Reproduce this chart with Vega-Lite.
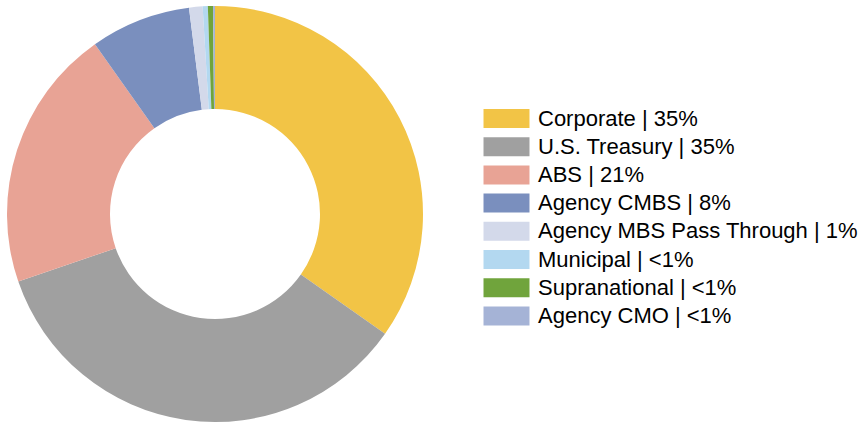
{
  "$schema": "https://vega.github.io/schema/vega-lite/v6.json",
  "width": 430,
  "height": 428,
  "padding": 0,
  "autosize": {"type": "pad"},
  "background": "white",
  "data": {
    "values": [
      {"label": "Corporate | 35%", "value": 34.8, "order": 1},
      {"label": "U.S. Treasury | 35%", "value": 35.0, "order": 2},
      {"label": "ABS | 21%", "value": 20.5, "order": 3},
      {"label": "Agency CMBS | 8%", "value": 7.8, "order": 4},
      {"label": "Agency MBS Pass Through | 1%", "value": 1.05, "order": 5},
      {"label": "Municipal | <1%", "value": 0.4, "order": 6},
      {"label": "Supranational | <1%", "value": 0.4, "order": 7},
      {"label": "Agency CMO | <1%", "value": 0.15, "order": 8}
    ]
  },
  "mark": {"type": "arc", "radius": 208, "radius2": 105},
  "encoding": {
    "theta": {"field": "value", "type": "quantitative", "stack": true},
    "order": {"field": "order", "type": "quantitative"},
    "color": {
      "field": "label",
      "type": "nominal",
      "sort": ["Corporate | 35%", "U.S. Treasury | 35%", "ABS | 21%", "Agency CMBS | 8%", "Agency MBS Pass Through | 1%", "Municipal | <1%", "Supranational | <1%", "Agency CMO | <1%"],
      "scale": {
        "domain": ["Corporate | 35%", "U.S. Treasury | 35%", "ABS | 21%", "Agency CMBS | 8%", "Agency MBS Pass Through | 1%", "Municipal | <1%", "Supranational | <1%", "Agency CMO | <1%"],
        "range": ["#F2C446", "#A0A0A0", "#E8A395", "#7A8FBE", "#D3D9EA", "#B3D8F0", "#70A43C", "#A5B3D6"]
      },
      "legend": {
        "title": null,
        "orient": "none",
        "legendX": 495.5,
        "legendY": 107.5,
        "symbolType": "M-2.42,-1H2.42V1H-2.42Z",
        "symbolSize": 361,
        "symbolStrokeWidth": 0,
        "symbolOpacity": 1,
        "labelFont": "Liberation Sans",
        "labelFontSize": 22,
        "labelColor": "#000000",
        "labelOffset": 20.5,
        "labelLimit": 400,
        "rowPadding": 6.2
      }
    }
  }
}
